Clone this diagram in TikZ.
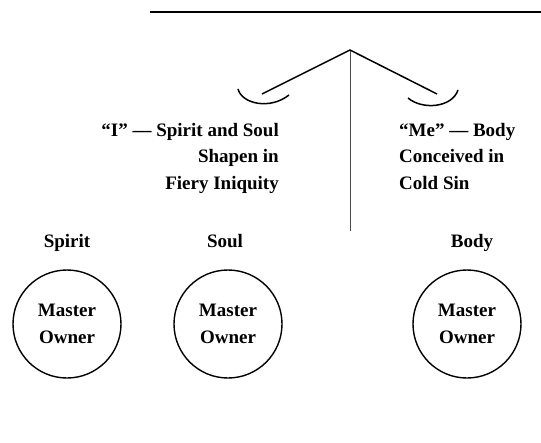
\documentclass[tikz,border=0pt]{standalone}
\usepackage{fontspec}
\setmainfont{Liberation Serif}
\usetikzlibrary{positioning}

\tikzset{
    lbl/.style={font=\bfseries\fontsize{19}{26.5}\selectfont, inner sep=0pt},
    owner/.style={circle, draw, line width=1.4pt, minimum size=108pt, inner sep=0pt, align=center, font=\bfseries\fontsize{19}{27.5}\selectfont},
}

\begin{document}
\begin{tikzpicture}[x=1pt,y=-1pt]
    \useasboundingbox (0,0) rectangle (541,442);
    \draw[line width=2pt] (150,12) --(541,12);
    \coordinate (apex) at (350,50);
    \coordinate (foot) at (350,231);
    \coordinate (larm) at (262,94);
    \coordinate (rarm) at (437,94);
    \draw[line width=1pt, gray!60!black] (apex) --(foot);
    \draw[line width=1.5pt] (larm) --(apex) --(rarm);
    % the two little cups
    \draw[line width=1.5pt] (238,89) .. controls (242,104) and (270,110) .. (289,95);
    \draw[line width=1.5pt] (408,98) .. controls (422,110) and (452,108) .. (458,90);

    \node[lbl, align=right, anchor=north east] (left) at (279,123) {``I'' --- Spirit and Soul\\Shapen in\\Fiery Iniquity};
    \node[lbl, align=left, anchor=north west] (right) at (399,123) {``Me'' --- Body\\Conceived in\\Cold Sin};

    \node[owner] (spiritc) at (67,324) {Master\\Owner};
    \node[owner] (soulc) at (228,324) {Master\\Owner};
    \node[owner] (bodyc) at (467,324) {Master\\Owner};
    \node[lbl, text depth=0pt, above=22pt of spiritc] (spirit) {Spirit};
    \node[lbl, text depth=0pt, above=22pt of soulc, xshift=-3pt] (soul) {Soul};
    \node[lbl, text depth=0pt, above=22pt of bodyc, xshift=5pt] (body) {Body};
\end{tikzpicture}
\end{document}
